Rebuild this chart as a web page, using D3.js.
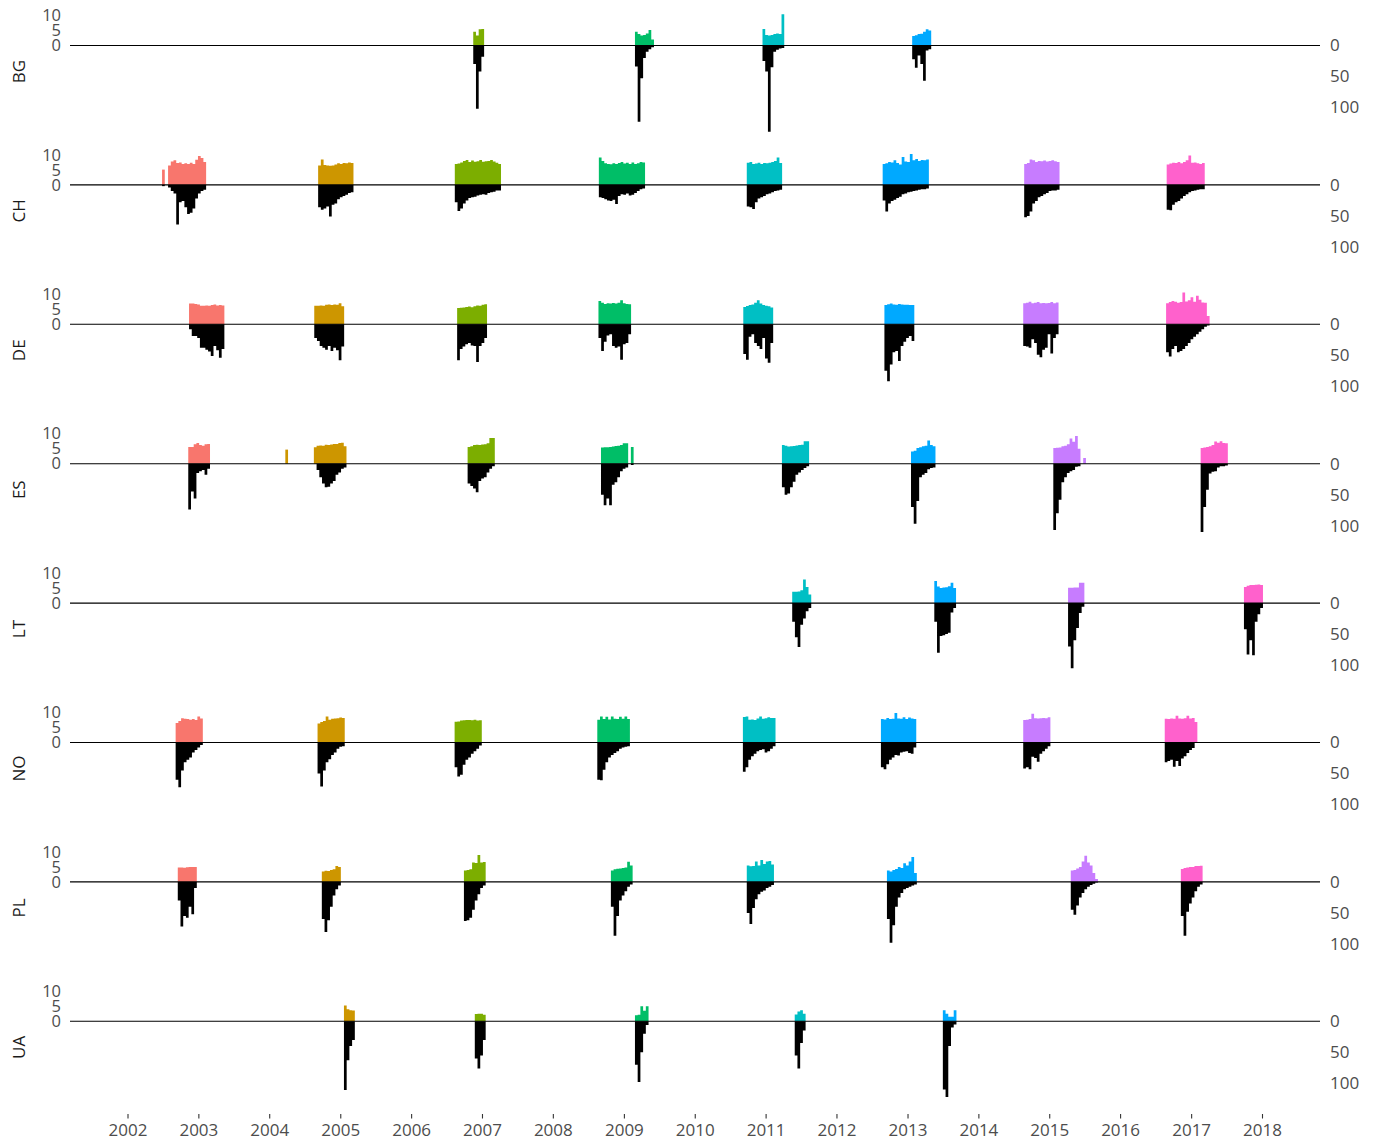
<!DOCTYPE html>
<html>
<head>
<meta charset="utf-8">
<script src="https://cdn.jsdelivr.net/npm/d3@7"></script>
<style>
  html, body { margin: 0; padding: 0; background: #ffffff; }
  svg { display: block; font-family: "Open Sans", "Noto Sans", sans-serif; }
</style>
</head>
<body>
<svg id="chart" width="1377" height="1141"></svg>
<script>
// ESS fieldwork per country: share of interviews per 14-day bin (up, coloured by round)
// and number of interviews per bin (down, black).
const countries = ["BG", "CH", "DE", "ES", "LT", "NO", "PL", "UA"];
const roundColors = ["#F8766D", "#CD9600", "#7CAE00", "#00BE67", "#00BFC4", "#00A9FF", "#C77CFF", "#FF61CC"];
const yearTicks = [2002, 2003, 2004, 2005, 2006, 2007, 2008, 2009, 2010, 2011, 2012, 2013, 2014, 2015, 2016, 2017, 2018];
const upTicks = [0, 5, 10];
const downTicks = [0, 50, 100];
const binDays = 14;

// Each entry: [round, first day of the block, share per bin, interviews per bin]
const fieldworkBG = [
  [3, "2006-11-17", [4.6, 3.3, 5.4, 5.5], [30, 102, 42, 18]],
  [4, "2009-02-27", [4.6, 3.8, 3.3, 3.5, 4.0, 5.2, 2.0], [34, 123, 53, 20, 10, 6, 3]],
  [5, "2010-12-16", [5.5, 3.5, 3.3, 3.5, 3.8, 4.0, 3.8, 10.4], [25, 42, 139, 35, 10, 7, 5, 4]],
  [6, "2013-01-25", [3.2, 3.4, 3.8, 3.9, 4.6, 5.4, 5.0], [22, 36, 16, 30, 57, 8, 6]]
];
const fieldworkCH = [
  [1, "2002-06-28", [5.1], [2]],
  [1, "2002-07-29", [6.5, 7.8, 8.2, 7.3, 7.5, 7.0, 7.2, 7.0, 7.4, 7.0, 8.4, 9.6, 9.0, 7.6], [4, 10, 14, 64, 28, 26, 36, 47, 45, 38, 22, 14, 10, 8]],
  [2, "2004-09-09", [6.5, 8.5, 6.6, 6.5, 6.4, 6.5, 6.8, 7.2, 7.0, 7.3, 7.2, 7.5, 7.3], [36, 40, 38, 35, 51, 32, 30, 23, 20, 18, 16, 13, 12]],
  [3, "2006-08-14", [7.0, 7.1, 7.5, 8.0, 8.3, 7.6, 8.1, 7.7, 7.9, 8.3, 7.7, 7.9, 8.0, 8.3, 7.8, 7.4, 7.0], [28, 42, 38, 30, 25, 21, 20, 19, 17, 16, 15, 16, 13, 12, 11, 9, 9]],
  [4, "2008-08-25", [9.1, 8.0, 7.2, 7.0, 6.9, 7.2, 7.0, 7.3, 7.6, 7.1, 7.4, 7.0, 7.5, 7.0, 7.2, 7.6, 7.5], [20, 21, 23, 25, 26, 24, 31, 18, 15, 16, 14, 17, 16, 13, 10, 7, 6]],
  [5, "2010-09-26", [7.4, 7.6, 7.0, 7.1, 7.4, 7.0, 7.3, 7.2, 7.4, 7.6, 8.0, 9.1, 7.3], [35, 36, 39, 28, 22, 20, 18, 15, 14, 12, 10, 9, 8]],
  [6, "2012-08-26", [7.0, 7.2, 7.6, 7.5, 8.2, 7.3, 6.8, 9.3, 7.8, 7.6, 10.3, 8.2, 8.6, 8.0, 8.3, 8.2, 8.5], [25, 43, 30, 26, 24, 21, 19, 15, 14, 12, 11, 10, 9, 8, 7, 7, 6]],
  [7, "2014-08-25", [7.0, 7.3, 8.5, 8.2, 7.6, 8.0, 7.9, 8.1, 7.8, 8.0, 8.2, 7.9, 7.6], [52, 50, 43, 30, 26, 20, 18, 15, 13, 10, 9, 9, 8]],
  [8, "2016-08-28", [6.8, 7.1, 7.4, 7.3, 7.6, 7.2, 7.6, 8.2, 9.8, 7.4, 7.5, 7.2, 7.0, 7.3], [40, 41, 32, 28, 26, 22, 18, 15, 12, 10, 9, 8, 7, 7]]
];
const fieldworkDE = [
  [1, "2002-11-14", [6.9, 6.9, 6.8, 6.6, 6.2, 6.2, 6.3, 6.2, 6.4, 6.6, 6.3, 6.4, 6.3], [8, 19, 19, 22, 38, 38, 41, 44, 51, 35, 42, 54, 40]],
  [2, "2004-08-20", [6.2, 6.2, 6.3, 6.2, 6.5, 6.6, 6.4, 6.6, 6.5, 7.0, 6.0], [22, 27, 35, 38, 41, 35, 43, 38, 42, 58, 36]],
  [3, "2006-08-26", [5.4, 5.5, 5.6, 5.8, 5.9, 5.7, 6.0, 6.3, 6.2, 6.5, 6.7], [58, 40, 36, 32, 30, 34, 35, 61, 35, 30, 22]],
  [4, "2008-08-23", [7.8, 7.2, 6.8, 7.0, 6.9, 7.1, 6.9, 7.2, 8.0, 7.0, 6.8, 6.7], [22, 43, 28, 18, 16, 35, 38, 36, 57, 32, 30, 16]],
  [5, "2010-09-08", [5.8, 6.1, 6.4, 6.6, 7.2, 8.0, 6.9, 6.4, 6.2, 6.0, 5.6], [48, 57, 20, 16, 30, 35, 40, 22, 55, 62, 30]],
  [6, "2012-09-04", [6.4, 6.7, 6.9, 6.6, 6.5, 6.8, 6.6, 6.5, 6.5, 6.4, 6.4], [75, 92, 65, 45, 43, 59, 35, 28, 22, 19, 27]],
  [7, "2014-08-20", [7.0, 7.2, 7.5, 7.0, 7.2, 7.4, 7.0, 7.1, 7.0, 7.1, 7.4, 7.0, 7.3], [35, 36, 38, 24, 30, 49, 53, 41, 38, 16, 47, 22, 16]],
  [8, "2016-08-25", [7.0, 7.4, 7.8, 7.5, 7.2, 7.4, 10.6, 7.6, 8.0, 9.0, 7.5, 9.5, 8.2, 7.3, 7.2, 2.8], [45, 52, 40, 35, 45, 43, 40, 35, 30, 24, 20, 16, 12, 8, 4, 2]]
];
const fieldworkES = [
  [1, "2002-11-10", [5.6, 5.6, 6.5, 6.9, 6.2, 6.0, 6.5, 6.6], [74, 45, 56, 15, 12, 10, 18, 8]],
  [2, "2004-03-24", [4.7], [0]],
  [2, "2004-08-18", [5.5, 6.0, 6.1, 6.0, 6.3, 6.2, 6.4, 6.6, 6.6, 6.9, 7.0, 5.8], [0, 10, 22, 32, 38, 37, 32, 28, 18, 14, 8, 6]],
  [3, "2006-10-19", [5.6, 5.8, 6.2, 6.3, 6.2, 6.4, 6.5, 6.8, 8.6, 8.6], [32, 36, 40, 46, 28, 24, 22, 14, 8, 4]],
  [4, "2008-09-05", [5.4, 5.5, 5.5, 5.6, 5.7, 5.9, 6.0, 6.2, 6.8, 6.8, 0, 5.6], [50, 67, 56, 67, 34, 30, 22, 12, 8, 6, 0, 2]],
  [5, "2011-03-26", [6.2, 6.0, 5.7, 5.8, 5.9, 6.1, 6.2, 6.3, 7.5, 7.5], [38, 50, 48, 38, 29, 18, 14, 10, 7, 4]],
  [6, "2013-01-19", [4.1, 4.3, 5.2, 5.5, 5.8, 6.0, 7.7, 6.2, 5.8], [70, 97, 60, 22, 18, 15, 9, 7, 6]],
  [7, "2015-01-22", [5.2, 5.3, 5.4, 5.8, 6.0, 6.5, 8.4, 7.3, 9.2, 5.0, 0, 1.9], [107, 80, 58, 30, 22, 15, 12, 10, 5, 4, 0, 0]],
  [8, "2017-02-19", [5.2, 5.4, 5.6, 5.8, 6.2, 7.4, 7.0, 7.5, 6.9, 6.8], [110, 70, 42, 16, 13, 12, 6, 4, 4, 3]]
];
const fieldworkLT = [
  [5, "2011-05-18", [3.8, 3.8, 3.9, 4.3, 7.9, 5.4, 2.9], [30, 55, 71, 35, 25, 13, 8]],
  [6, "2013-05-19", [7.4, 5.5, 5.0, 5.2, 5.3, 5.6, 6.8, 5.0], [30, 80, 53, 52, 50, 48, 15, 8]],
  [7, "2015-04-08", [5.1, 5.1, 5.2, 5.2, 6.8, 6.8], [70, 105, 60, 40, 16, 6]],
  [8, "2017-09-30", [5.4, 5.8, 6.0, 6.0, 6.1, 6.2, 6.0], [42, 83, 60, 84, 30, 18, 8]]
];
const fieldworkNO = [
  [1, "2002-09-06", [6.5, 7.2, 8.1, 7.9, 7.8, 7.6, 7.8, 7.5, 8.7, 8.0], [60, 72, 45, 32, 28, 24, 16, 12, 8, 4]],
  [2, "2004-09-06", [6.3, 6.8, 7.2, 8.7, 7.6, 7.9, 8.0, 8.1, 8.3, 8.2], [50, 71, 45, 32, 27, 20, 16, 10, 7, 6]],
  [3, "2006-08-13", [6.9, 7.0, 7.3, 7.4, 7.5, 7.5, 7.4, 7.6, 7.3, 7.4], [40, 55, 52, 36, 28, 24, 18, 14, 10, 5]],
  [4, "2008-08-17", [7.6, 8.7, 7.8, 8.6, 7.7, 8.7, 7.9, 7.8, 8.6, 7.9, 8.7, 7.8], [60, 61, 44, 32, 24, 20, 17, 14, 10, 8, 7, 6]],
  [5, "2010-09-06", [8.5, 8.7, 7.6, 7.7, 7.5, 8.0, 8.7, 7.9, 8.1, 8.4, 8.2, 8.2], [47, 40, 28, 22, 18, 14, 12, 11, 16, 14, 10, 6]],
  [6, "2012-08-17", [7.8, 7.7, 8.2, 7.8, 7.9, 9.8, 8.0, 7.9, 8.4, 7.8, 8.3, 8.0, 7.8], [40, 43, 35, 28, 24, 20, 21, 16, 15, 14, 17, 18, 8]],
  [7, "2014-08-20", [7.5, 7.6, 7.8, 9.6, 8.1, 8.0, 8.1, 8.2, 8.1, 8.4], [42, 40, 43, 23, 25, 31, 18, 14, 10, 6]],
  [8, "2016-08-18", [7.9, 7.8, 8.0, 7.9, 8.9, 8.0, 7.9, 8.1, 8.9, 8.0, 8.2, 6.8], [32, 30, 28, 39, 30, 38, 26, 22, 17, 12, 9, 0]]
];
const fieldworkPL = [
  [1, "2002-09-17", [4.8, 4.8, 4.7, 4.9, 5.0, 5.0, 5.0], [30, 72, 55, 58, 40, 52, 10]],
  [2, "2004-09-28", [3.5, 3.7, 3.6, 4.0, 4.2, 5.3, 5.0], [60, 81, 62, 40, 22, 12, 6]],
  [3, "2006-09-30", [3.8, 4.0, 4.2, 6.5, 6.3, 9.0, 6.5, 6.6], [63, 62, 58, 45, 30, 20, 10, 6]],
  [4, "2008-10-26", [3.8, 4.2, 4.4, 4.5, 4.6, 4.8, 6.7, 5.5], [40, 87, 55, 30, 22, 15, 8, 4]],
  [5, "2010-09-26", [5.5, 5.2, 5.3, 6.8, 5.5, 7.3, 6.0, 6.8, 7.0, 5.8], [50, 68, 42, 28, 20, 16, 14, 10, 8, 5]],
  [6, "2012-09-17", [3.8, 3.5, 4.0, 4.3, 5.0, 4.6, 6.2, 5.5, 6.8, 8.3, 3.0], [60, 98, 70, 40, 25, 18, 12, 10, 8, 6, 4]],
  [7, "2015-04-22", [3.8, 4.0, 4.5, 5.0, 6.8, 8.7, 6.5, 5.5, 3.0, 1.0], [45, 53, 38, 25, 18, 12, 8, 5, 3, 1]],
  [8, "2016-11-09", [4.3, 4.6, 4.8, 5.0, 5.0, 5.3, 5.3, 5.4], [55, 87, 48, 35, 25, 15, 8, 4]]
];
const fieldworkUA = [
  [2, "2005-01-20", [5.3, 4.0, 3.7, 3.6], [111, 63, 40, 30]],
  [3, "2006-11-25", [2.4, 2.5, 2.5, 2.2], [60, 76, 55, 30]],
  [4, "2009-02-27", [2.0, 2.2, 5.0, 3.5, 5.0], [70, 98, 50, 20, 6]],
  [5, "2011-05-31", [2.3, 3.3, 3.7, 2.5], [55, 76, 35, 15]],
  [6, "2013-07-02", [3.7, 2.5, 1.5, 1.5, 3.7], [110, 122, 40, 10, 5]]
];

const fieldwork = [fieldworkBG, fieldworkCH, fieldworkDE, fieldworkES,
                   fieldworkLT, fieldworkNO, fieldworkPL, fieldworkUA];

// ---- layout ----
const W = 1377, H = 1141;
const plotLeft = 70, plotRight = 1320;
const firstZero = 45.5, panelStep = 139.4;
const axisY = 1114;
const font = '"Open Sans", "Noto Sans", sans-serif';

const parseDay = d3.utcParse("%Y-%m-%d");
const x = d3.scaleUtc()
  .domain([new Date(Date.UTC(2002, 0, 1)), new Date(Date.UTC(2018, 0, 1))])
  .range([127.5, 1262]);
const yUp = d3.scaleLinear().domain([0, 10]).range([0, -30]);
const yDown = d3.scaleLinear().domain([0, 100]).range([0, 62]);

// Each block is drawn as one stepped area so neighbouring bins join without seams.
const upArea = d3.area().curve(d3.curveStepAfter)
  .x(d => x(d.t)).y0(0).y1(d => yUp(d.v));
const downArea = d3.area().curve(d3.curveStepAfter)
  .x(d => x(d.t)).y0(0).y1(d => yDown(d.v));

function steps(start, values) {
  const d0 = parseDay(start);
  const pts = values.map((v, k) => ({ t: d3.utcDay.offset(d0, k * binDays), v }));
  pts.push({ t: d3.utcDay.offset(d0, values.length * binDays), v: values[values.length - 1] });
  return pts;
}

const svg = d3.select("#chart");
svg.append("rect").attr("width", W).attr("height", H).attr("fill", "#ffffff");

countries.forEach((code, i) => {
  const zero = firstZero + i * panelStep;
  const g = svg.append("g").attr("transform", `translate(0,${zero})`);
  const blocks = fieldwork[i];

  g.append("g").selectAll("path")
    .data(blocks)
    .join("path")
      .attr("d", ([round, start, up]) => upArea(steps(start, up)))
      .attr("fill", ([round]) => roundColors[round - 1]);

  g.append("g").selectAll("path")
    .data(blocks)
    .join("path")
      .attr("d", ([round, start, up, down]) => downArea(steps(start, down)))
      .attr("fill", "#000000");

  g.append("line")
    .attr("x1", plotLeft).attr("x2", plotRight)
    .attr("y1", 0).attr("y2", 0)
    .attr("stroke", "#000000").attr("stroke-width", 1.1);

  const left = g.append("g").attr("transform", `translate(${plotLeft},0)`)
    .call(d3.axisLeft(yUp).tickValues(upTicks).tickSize(0).tickPadding(9));
  const right = g.append("g").attr("transform", `translate(${plotRight},0)`)
    .call(d3.axisRight(yDown).tickValues(downTicks).tickSize(0).tickPadding(10));
  [left, right].forEach(ax => {
    ax.select(".domain").remove();
    ax.selectAll("text").attr("fill", "#4d4d4d").style("font-size", "17px")
      .style("font-family", font);
  });
  left.selectAll("text").style("font-size", "16.5px");

  g.append("text")
    .attr("transform", `translate(18,26) rotate(-90)`)
    .attr("text-anchor", "middle")
    .attr("dominant-baseline", "central")
    .attr("fill", "#1a1a1a")
    .style("font-size", "17px")
    .style("font-family", font)
    .text(code);
});

const xAxis = svg.append("g").attr("transform", `translate(0,${axisY})`)
  .call(d3.axisBottom(x)
    .tickValues(yearTicks.map(y => new Date(Date.UTC(y, 0, 1))))
    .tickFormat(d3.utcFormat("%Y"))
    .tickSize(4.5).tickPadding(5));
xAxis.select(".domain").remove();
xAxis.selectAll(".tick line").attr("stroke", "#333333").attr("stroke-width", 1.1);
xAxis.selectAll("text").attr("fill", "#4d4d4d").style("font-size", "17px")
  .style("font-family", font);
</script>
</body>
</html>
